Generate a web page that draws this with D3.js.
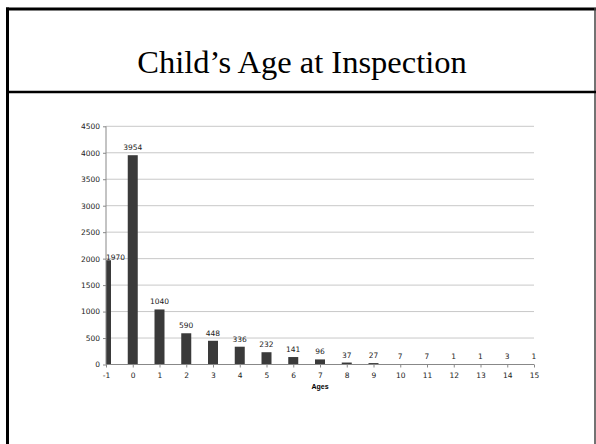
<!DOCTYPE html>
<html>
<head>
<meta charset="utf-8">
<script src="https://cdn.jsdelivr.net/npm/d3@7"></script>
<style>
  html, body { margin: 0; padding: 0; background: #fff; }
  svg { display: block; }
</style>
</head>
<body>
<script>
// Inspection counts by child's age (years)
const ages = [-1, 0, 1, 2, 3, 4, 5, 6, 7, 8, 9, 10, 11, 12, 13, 14, 15];
const counts = [1970, 3954, 1040, 590, 448, 336, 232, 141, 96, 37, 27, 7, 7, 1, 1, 3, 1];
const yTicks = [0, 500, 1000, 1500, 2000, 2500, 3000, 3500, 4000, 4500];
const title = "Child’s Age at Inspection";
const xTitle = "Ages";

const W = 596, H = 444;
const plot = { left: 106, right: 534, top: 126.3, bottom: 364.5 };

const svg = d3.select("body").append("svg")
  .attr("width", W).attr("height", H);

// slide frame
svg.append("rect").attr("x", 0).attr("y", 0).attr("width", W).attr("height", H).attr("fill", "#fff");
svg.append("line").attr("x1", 7.5).attr("x2", 7.5).attr("y1", 7.5).attr("y2", H)
  .attr("stroke", "#000").attr("stroke-width", 3);
svg.append("line").attr("x1", 6).attr("x2", W).attr("y1", 9).attr("y2", 9)
  .attr("stroke", "#000").attr("stroke-width", 3);
svg.append("line").attr("x1", 595).attr("x2", 595).attr("y1", 8).attr("y2", H)
  .attr("stroke", "#444").attr("stroke-width", 1.5);
svg.append("line").attr("x1", 6).attr("x2", W).attr("y1", 92).attr("y2", 92)
  .attr("stroke", "#000").attr("stroke-width", 2.5);

svg.append("text")
  .attr("x", 302).attr("y", 73)
  .attr("text-anchor", "middle")
  .attr("font-family", "Liberation Serif, Times New Roman, serif")
  .attr("font-size", 32.5)
  .attr("fill", "#000")
  .text(title);

const x = d3.scalePoint().domain(ages).range([plot.left, plot.right]);
const y = d3.scaleLinear().domain([0, 4500]).range([plot.bottom, plot.top]);

const font = "DejaVu Sans, Verdana, sans-serif";

// gridlines
svg.append("g")
  .selectAll("line").data(yTicks.filter(d => d > 0)).join("line")
  .attr("x1", plot.left).attr("x2", plot.right)
  .attr("y1", d => y(d)).attr("y2", d => y(d))
  .attr("stroke", "#c8c8c8").attr("stroke-width", 1);

svg.append("clipPath").attr("id", "plotclip")
  .append("rect").attr("x", plot.left).attr("y", 0)
  .attr("width", plot.right - plot.left).attr("height", H);

// bars
const bw = 10;
svg.append("g").attr("clip-path", "url(#plotclip)")
  .selectAll("rect").data(ages).join("rect")
  .attr("x", d => x(d) - bw / 2)
  .attr("width", bw)
  .attr("y", (d, i) => y(counts[i]))
  .attr("height", (d, i) => plot.bottom - y(counts[i]))
  .attr("fill", "#3a3a3a");

// value labels
svg.append("g")
  .selectAll("text").data(ages).join("text")
  .attr("x", d => Math.max(x(d), plot.left + 9.5))
  .attr("y", (d, i) => x(d) < plot.left + 5 ? y(counts[i]) : y(counts[i]) - 5)
  .attr("text-anchor", "middle")
  .attr("font-family", font).attr("font-size", 7.5)
  .attr("fill", "#222")
  .text((d, i) => counts[i]);

// y axis
const yAxis = svg.append("g")
  .attr("transform", `translate(${plot.left},0)`)
  .call(d3.axisLeft(y).tickValues(yTicks).tickSize(3).tickPadding(3).tickFormat(d3.format("d")));
yAxis.select(".domain").attr("stroke", "#888").attr("d", `M0,${plot.top}V${plot.bottom}`);
yAxis.selectAll(".tick line").attr("stroke", "#888");
yAxis.selectAll("text").attr("font-family", font).attr("font-size", 7.5).attr("fill", "#222");

// x axis
const xAxis = svg.append("g")
  .attr("transform", `translate(0,${plot.bottom})`)
  .call(d3.axisBottom(x).tickSize(3).tickPadding(5));
xAxis.select(".domain").attr("stroke", "#888").attr("d", `M${plot.left},0H${plot.right}`);
xAxis.selectAll(".tick line").attr("stroke", "#888");
xAxis.selectAll("text").attr("font-family", font).attr("font-size", 7.5).attr("fill", "#222");

svg.append("text")
  .attr("x", (plot.left + plot.right) / 2).attr("y", 388.5)
  .attr("text-anchor", "middle")
  .attr("font-family", "Liberation Sans, Arial, sans-serif")
  .attr("font-weight", "bold").attr("font-size", 7)
  .attr("fill", "#000")
  .text(xTitle);
</script>
</body>
</html>
